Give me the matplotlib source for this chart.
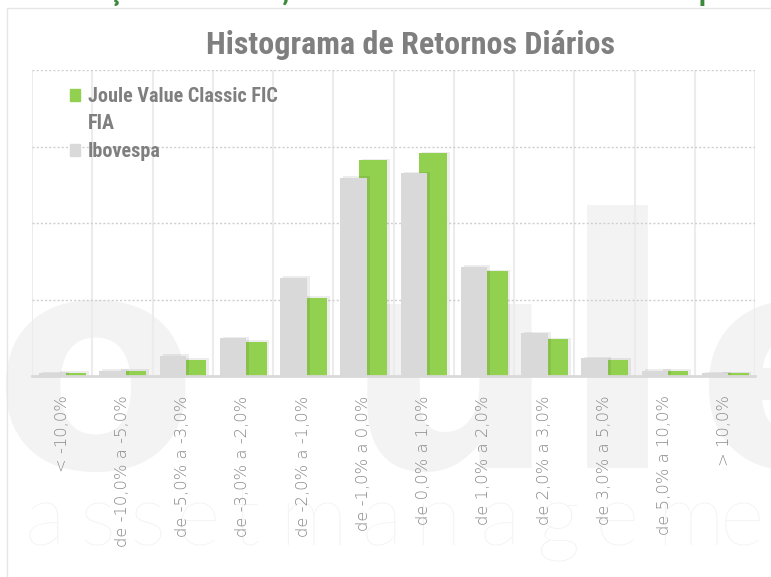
import matplotlib
matplotlib.use("Agg")
import matplotlib.pyplot as plt
import matplotlib.patheffects as pe
from matplotlib.patches import Patch, Rectangle
import numpy as np

# faixas de retorno diario
faixas = ["< -10,0%", "de -10,0% a -5,0%", "de -5,0% a -3,0%", "de -3,0% a -2,0%",
          "de -2,0% a -1,0%", "de -1,0% a 0,0%", "de 0,0% a 1,0%", "de 1,0% a 2,0%",
          "de 2,0% a 3,0%", "de 3,0% a 5,0%", "de 5,0% a 10,0%", "> 10,0%"]

# frequencia (%) de cada faixa
ibov = [0.35, 0.7, 2.65, 4.97, 12.85, 25.9, 26.5, 14.3, 5.6, 2.35, 0.7, 0.35]
joule = [0.43, 0.7, 2.13, 4.48, 10.24, 28.2, 29.1, 13.7, 4.8, 2.13, 0.7, 0.39]

nome_joule = ["Joule Value Classic FIC", "FIA"]
nome_ibov = "Ibovespa"
titulo = "Histograma de Retornos Diários"

verde = "#92d050"
cinza = "#d9d9d9"
txt_cor = "#7f7f7f"
marca = "#f3f3f3"
estreita = ["Liberation Sans Narrow", "Roboto Condensed", "Open Sans Condensed", "Roboto"]

W, H = 771, 577
fig = plt.figure(figsize=(W / 100, H / 100), dpi=100)
fig.patch.set_facecolor("white")

# marca d'agua ao fundo
for letra, x, ha, fs in [("o", -8, "left", 215), ("u", 556, "right", 215),
                         ("l", 617, "center", 250), ("e", 695, "left", 215)]:
    fig.text(x / W, 1 - 468 / H, letra, fontsize=fs, family="DejaVu Sans", weight="bold",
             color=marca, ha=ha, va="baseline", zorder=-5)
letras = "assetmanagement"
xs = [45, 97, 147, 198, 245, 313, 382, 437, 500, 558, 617, 690, 742, 800, 850]
for ch, x in zip(letras, xs):
    fig.text(x / W, 1 - 545 / H, ch, fontsize=62, family="Lato", weight="light",
             color=marca, ha="center", va="baseline", zorder=-5)

# moldura e texto cortado no topo
fig.patches.append(Rectangle((7 / W, -0.1), 1.2, 1 - 8 / H + 0.1, transform=fig.transFigure,
                             fill=False, edgecolor="#e6e6e6", lw=1, zorder=-4))
fig.text(15 / W, 1 - 0.5 / H, "Distribuição de retornos, Joule Value Classic FIC FIA x Ibovespa",
         fontsize=20, weight="bold", color="#3a8a3a", ha="left", va="baseline",
         family=estreita)

fig.text(410 / W, 1 - 45 / H, titulo, fontsize=23, weight="bold", color=txt_cor,
         ha="center", va="center", family=estreita)

ax = fig.add_axes([32 / W, 1 - 376 / H, 723 / W, 306 / H])
ax.patch.set_alpha(0)

x = np.arange(len(faixas))
sombra = [pe.SimplePatchShadow(offset=(2, 1), shadow_rgbFace="k", alpha=0.07), pe.Normal()]
b1 = ax.bar(x + 0.16, joule, width=0.47, color=verde, zorder=2)
b2 = ax.bar(x - 0.16, ibov, width=0.44, color=cinza, zorder=3)
for b in list(b1) + list(b2):
    b.set_path_effects(sombra)

ax.set_xlim(-0.5, len(faixas) - 0.5)
ax.set_ylim(0, 40)
ax.set_yticks([10, 20, 30, 40])
ax.set_yticklabels([])
ax.set_xticks(x)
ax.set_xticklabels(faixas, rotation=90, fontsize=11.8, color="#8a8a8a",
                   family="DejaVu Sans", weight="light")
ax.set_xticks(np.arange(-0.5, len(faixas)), minor=True)
ax.tick_params(axis="both", which="both", length=0)
ax.tick_params(axis="x", pad=14)
ax.grid(axis="y", color="#cfcfcf", linestyle=(0, (1.5, 1.5)), lw=1)
ax.grid(axis="x", which="minor", color="#ececec", lw=1.5)
ax.set_axisbelow(True)
for s in ["top", "left", "right"]:
    ax.spines[s].set_visible(False)
ax.spines["bottom"].set_color("#d9d9d9")
ax.spines["bottom"].set_linewidth(2)

# legenda: a segunda linha do nome do fundo fica sem marcador
handles = [Patch(color=verde), Patch(color="none"), Patch(color=cinza)]
leg = ax.legend(handles, nome_joule + [nome_ibov], loc="upper left", bbox_to_anchor=(0.052, 0.945),
                frameon=False, borderpad=0, borderaxespad=0, handlelength=0.5, handleheight=0.55,
                handletextpad=0.4, labelspacing=0.42,
                prop={"family": estreita, "weight": "bold", "size": 14.5})
for t in leg.get_texts():
    t.set_color(txt_cor)

fig.savefig("out.png", dpi=100)
